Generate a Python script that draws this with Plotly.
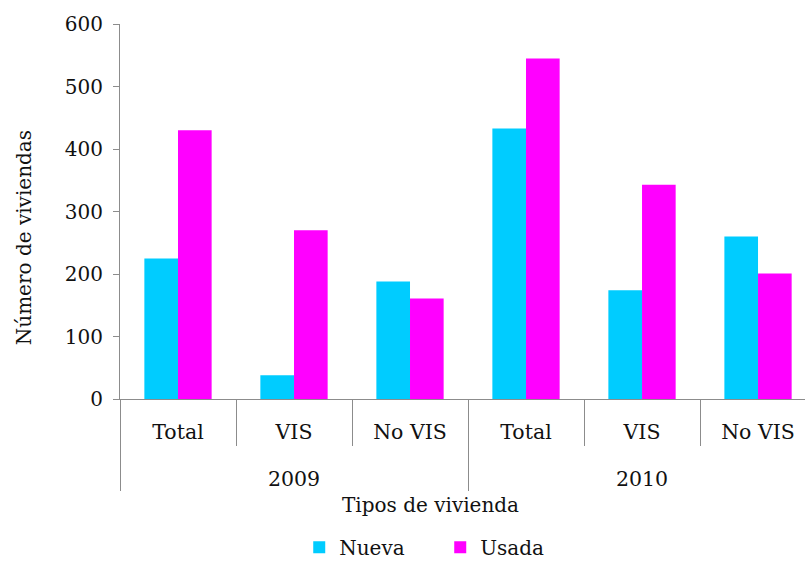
import plotly.graph_objects as go

years = ["2009", "2009", "2009", "2010", "2010", "2010"]
tipos = ["Total", "VIS", "No VIS", "Total", "VIS", "No VIS"]
nueva = [225, 38, 188, 433, 174, 260]
usada = [430, 270, 161, 545, 343, 201]
y_ticks = [0, 100, 200, 300, 400, 500, 600]

FONT = "DejaVu Serif"
GREY = "#8c8c8c"

# visible label text at 20.5px; a larger base size leaves more room between the two levels
def lbl(t):
    return "<span style='font-size:20.5px'>" + t + "</span>"

years_lbl = [lbl(y) for y in years]
tipos_lbl = [lbl(t) + "<br> " for t in tipos]

fig = go.Figure()
fig.add_trace(go.Bar(x=[years_lbl, tipos_lbl], y=nueva, name="Nueva", marker_color="#00CCFF", marker_line_width=0))
fig.add_trace(go.Bar(x=[years_lbl, tipos_lbl], y=usada, name="Usada", marker_color="#FF00FF", marker_line_width=0))

fig.update_layout(
    width=805, height=561,
    margin=dict(l=120, r=0, t=24, b=162, autoexpand=False),
    paper_bgcolor="white", plot_bgcolor="white",
    font=dict(family=FONT, size=20, color="#111111"),
    barmode="group", bargap=0.42, bargroupgap=0,
    showlegend=True,
    legend=dict(orientation="h", x=0.4675, xanchor="center", y=-0.395, yanchor="middle",
                font=dict(size=20), itemwidth=30, traceorder="normal", entrywidth=96),
    xaxis=dict(type="multicategory", range=[-0.5, 5.405], showline=True, linecolor=GREY, linewidth=1,
               ticks="outside", ticklen=46, tickcolor=GREY, showgrid=False,
               showdividers=True, dividercolor=GREY, dividerwidth=1, automargin=False,
               ticklabelstandoff=11,
               tickfont=dict(size=23.5, family=FONT)),
    yaxis=dict(range=[0, 600], tickvals=y_ticks, showline=True, linecolor=GREY, linewidth=1,
               ticks="outside", ticklen=6, tickcolor=GREY, showgrid=False, zeroline=False,
               automargin=False, ticklabelstandoff=6,
               tickfont=dict(size=20, family=FONT)),
    annotations=[
        dict(text="Número de viviendas", xref="paper", yref="paper", x=-0.14, y=0.429,
             textangle=-90, showarrow=False, font=dict(size=20, family=FONT), xanchor="center", yanchor="middle"),
        dict(text="Tipos de vivienda", xref="paper", yref="paper", x=0.454, y=-0.283,
             showarrow=False, font=dict(size=20, family=FONT), xanchor="center", yanchor="middle"),
    ],
)

fig.write_html(
    "out.html",
    config={"displayModeBar": False},
    post_script=(
        "document.body.style.margin='0';"
        "var d=document.getElementById('{plot_id}');"
        "d.style.position='absolute';d.style.top='0';d.style.left='0';"
    ),
)
